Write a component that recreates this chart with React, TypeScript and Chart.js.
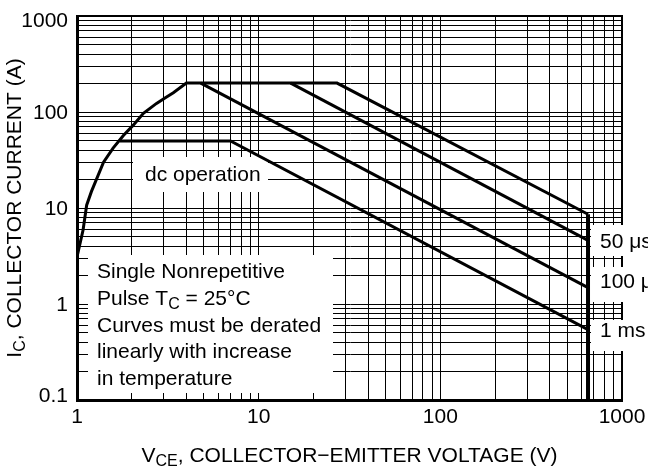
import React, { useEffect, useRef } from 'react';
import { Chart, registerables } from 'chart.js';

Chart.register(...registerables);

const FONT = '"Liberation Sans", Arial, Helvetica, sans-serif';

// VCE (V) / IC (A) values
const envelopeX = [1, 1.08, 1.13, 1.2, 1.4, 1.58, 1.8, 2.04, 2.32, 2.74, 3.05, 3.39, 4.0, 27, 650];
const envelopeY = [3.1, 5.9, 10.7, 14.8, 30, 42, 57, 73, 97, 123, 140, 159, 200, 200, 8.6];
const limitX = [650, 650];
const limitY = [8.6, 0.1];
const us50X = [15, 650];
const us50Y = [200, 4.6];
const us100X = [4.8, 650];
const us100Y = [200, 1.48];
const dcX = [1.72, 7, 650];
const dcY = [50, 50, 0.54];

const xTickValues = [1, 10, 100, 1000];
const xTickLabels = ['1', '10', '100', '1000'];
const yTickValues = [0.1, 1, 10, 100, 1000];
const yTickLabels = ['0.1', '1', '10', '100', '1000'];

const curveLabels = ['50 μs', '100 μs', '1 ms'];
const curveLabelY = [4.6, 1.75, 0.54];

type Part = { t: string; sub?: boolean };
const noteLines: Part[][] = [
  [{ t: 'Single Nonrepetitive' }],
  [{ t: 'Pulse T' }, { t: 'C', sub: true }, { t: ' = 25°C' }],
  [{ t: 'Curves must be derated' }],
  [{ t: 'linearly with increase' }],
  [{ t: 'in temperature' }],
];
const dcLabel = 'dc operation';
const xTitle: Part[] = [{ t: 'V' }, { t: 'CE', sub: true }, { t: ', COLLECTOR−EMITTER VOLTAGE (V)' }];
const yTitle: Part[] = [{ t: 'I' }, { t: 'C', sub: true }, { t: ', COLLECTOR CURRENT (A)' }];

function gridValues(min: number, max: number): number[] {
  const out: number[] = [];
  for (let e = Math.round(Math.log10(min)); e < Math.round(Math.log10(max)); e++) {
    for (let m = 1; m <= 9; m++) out.push(parseFloat((m * Math.pow(10, e)).toPrecision(6)));
  }
  out.push(max);
  return out;
}

function drawRich(ctx: CanvasRenderingContext2D, parts: Part[], x: number, y: number, align: 'left' | 'center', size = 21) {
  const main = `${size}px ${FONT}`;
  const subF = `${Math.round(size * 0.77)}px ${FONT}`;
  let w = 0;
  const widths = parts.map((p) => {
    ctx.font = p.sub ? subF : main;
    const m = ctx.measureText(p.t).width;
    w += m;
    return m;
  });
  let cx = align === 'center' ? x - w / 2 : x;
  ctx.textAlign = 'left';
  ctx.textBaseline = 'alphabetic';
  parts.forEach((p, i) => {
    ctx.font = p.sub ? subF : main;
    ctx.fillText(p.t, cx, y + (p.sub ? 4 : 0));
    cx += widths[i];
  });
}

const mk = (xs: number[], ys: number[], w: number) => ({
  data: xs.map((x, i) => ({ x, y: ys[i] })),
  borderColor: '#000',
  borderWidth: w,
  pointRadius: 0,
  fill: false,
  tension: 0,
  borderJoinStyle: 'miter' as const,
  borderCapStyle: 'butt' as const,
});

const annotPlugin = {
  id: 'annot',
  beforeDatasetsDraw(chart: any) {
    const ctx: CanvasRenderingContext2D = chart.ctx;
    const { left, right, top, bottom } = chart.chartArea;
    const ys = chart.scales.y;
    ctx.save();
    // top and right frame
    ctx.strokeStyle = '#000';
    ctx.lineWidth = 2;
    ctx.beginPath();
    ctx.moveTo(left, top);
    ctx.lineTo(right, top);
    ctx.lineTo(right, bottom);
    ctx.stroke();

    // white label boxes that interrupt the grid
    ctx.fillStyle = '#fff';
    const boxes = [
      [133, 157, 135, 35],
      [88, 255, 245, 138],
      [591, 225, 57, 31],
      [591, 267, 57, 35],
      [591, 320, 57, 31],
    ];
    boxes.forEach(([x, y, w, h]) => ctx.fillRect(x, y, w, h));

    ctx.fillStyle = '#000';
    drawRich(ctx, [{ t: dcLabel }], 145, 181, 'left');
    noteLines.forEach((ln, i) => drawRich(ctx, ln, 97, 278 + i * 26.75, 'left'));
    curveLabels.forEach((lab, i) => {
      const py = ys.getPixelForValue(curveLabelY[i]);
      drawRich(ctx, [{ t: lab }], 600, py + 7.5, 'left');
    });
    ctx.restore();
  },
  afterDraw(chart: any) {
    const ctx: CanvasRenderingContext2D = chart.ctx;
    const { left, right, top, bottom } = chart.chartArea;
    const xs = chart.scales.x;
    const ys = chart.scales.y;
    ctx.save();
    ctx.fillStyle = '#000';
    ctx.font = `21px ${FONT}`;
    ctx.textBaseline = 'alphabetic';
    ctx.textAlign = 'right';
    yTickValues.forEach((v, i) => {
      const py = ys.getPixelForValue(v);
      const base = Math.max(top + 10.5, Math.min(bottom + 2, py + 6.5));
      ctx.fillText(yTickLabels[i], 68, base);
    });
    ctx.textAlign = 'center';
    xTickValues.forEach((v, i) => {
      const px = xs.getPixelForValue(v);
      ctx.fillText(xTickLabels[i], px, bottom + 23);
    });
    drawRich(ctx, xTitle, (left + right) / 2, bottom + 62, 'center');
    ctx.translate(21, (top + bottom) / 2);
    ctx.rotate(-Math.PI / 2);
    drawRich(ctx, yTitle, 0, 0, 'center');
    ctx.restore();
  },
};

export default function App() {
  const ref = useRef<HTMLCanvasElement>(null);
  useEffect(() => {
    document.body.style.margin = '0';
    const canvas = ref.current;
    if (!canvas) return;
    const xGrid = gridValues(1, 1000);
    const yGrid = gridValues(0.1, 1000);
    const chart = new Chart(canvas, {
      type: 'line',
      data: {
        datasets: [
          mk(envelopeX, envelopeY, 3),
          mk(limitX, limitY, 4),
          mk(us50X, us50Y, 3),
          mk(us100X, us100Y, 3),
          mk(dcX, dcY, 3),
        ] as any,
      },
      options: {
        responsive: false,
        animation: false,
        devicePixelRatio: 1,
        layout: { padding: { top: 16, right: 26, left: 0, bottom: 0 } },
        plugins: { legend: { display: false }, tooltip: { enabled: false }, title: { display: false } },
        scales: {
          x: {
            type: 'logarithmic',
            min: 1,
            max: 1000,
            afterBuildTicks: (axis: any) => {
              axis.ticks = xGrid.map((value) => ({ value }));
            },
            afterFit: (s: any) => {
              s.height = 68;
            },
            ticks: { display: false },
            grid: { color: '#000', lineWidth: 1, drawTicks: false },
            border: { display: true, color: '#000', width: 3 },
          },
          y: {
            type: 'logarithmic',
            min: 0.1,
            max: 1000,
            afterBuildTicks: (axis: any) => {
              axis.ticks = yGrid.map((value) => ({ value }));
            },
            afterFit: (s: any) => {
              s.width = 77;
            },
            ticks: { display: false },
            grid: { color: '#000', lineWidth: 1, drawTicks: false },
            border: { display: true, color: '#000', width: 3 },
          },
        },
      } as any,
      plugins: [annotPlugin],
    });
    return () => chart.destroy();
  }, []);
  return (
    <div style={{ position: 'absolute', left: 0, top: 0, width: 648, height: 468, background: '#fff' }}>
      <canvas ref={ref} width={648} height={468} style={{ display: 'block' }} />
    </div>
  );
}
